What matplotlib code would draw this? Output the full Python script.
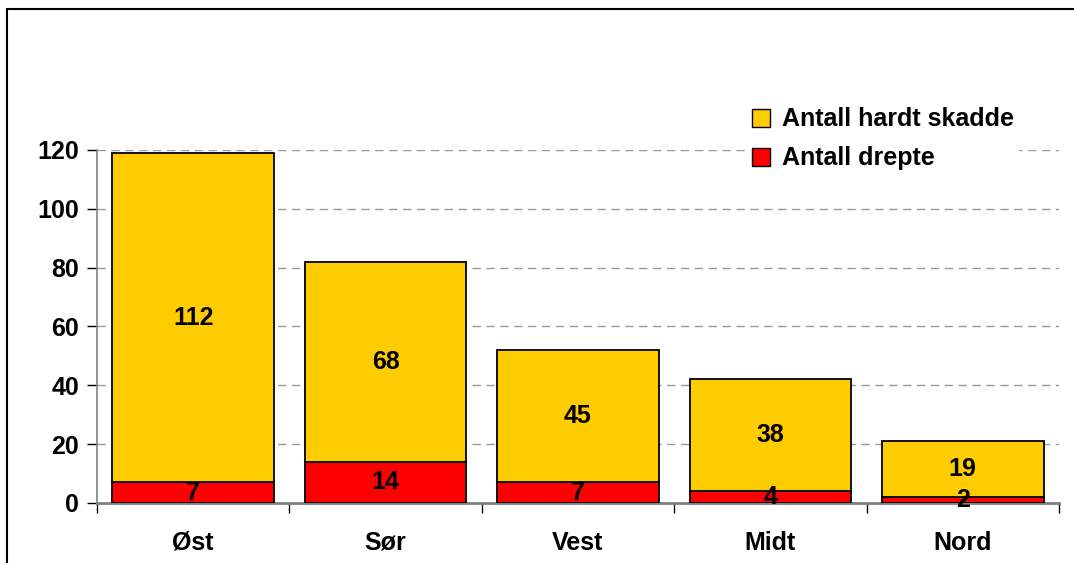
import matplotlib
matplotlib.use("Agg")
import matplotlib.pyplot as plt
from matplotlib.patches import Rectangle, Patch

regions = ["Øst", "Sør", "Vest", "Midt", "Nord"]
drepte = [7, 14, 7, 4, 2]
skadde = [112, 68, 45, 38, 19]
yticks = [0, 20, 40, 60, 80, 100, 120]

plt.rcParams['font.family'] = ['Liberation Sans', 'DejaVu Sans']
plt.rcParams['font.weight'] = 'bold'
fs = 18

fig = plt.figure(figsize=(10.74, 5.63), dpi=100)
ax = fig.add_axes([0.0903, 0.1066, 0.8957, 0.627])

# frame around the whole chart (only left and top are visible)
fig.patches.append(Rectangle((7/1074, -0.2), 1.2, 1.2 - 9/563,
                             transform=fig.transFigure, fill=False,
                             edgecolor="black", linewidth=1.5))

x = list(range(len(regions)))
w = 0.84
ax.bar(x, drepte, width=w, color="#ff0000", edgecolor="black", linewidth=1.3, zorder=3)
ax.bar(x, skadde, width=w, bottom=drepte, color="#ffcc00", edgecolor="black", linewidth=1.3, zorder=3)

for i in x:
    ax.text(i, drepte[i] / 2, str(drepte[i]), ha="center", va="center",
            fontsize=fs, fontweight="bold", zorder=4)
    ax.text(i, drepte[i] + skadde[i] / 2, str(skadde[i]), ha="center", va="center",
            fontsize=fs, fontweight="bold", zorder=4)

ax.set_xlim(-0.5, len(regions) - 0.5)
ax.set_ylim(0, 120)
ax.set_yticks(yticks)
ax.set_yticklabels([str(t) for t in yticks], fontsize=fs, fontweight="bold")
ax.yaxis.grid(True, linestyle=(0, (6, 4)), color="#999999", linewidth=1, zorder=0)

# category ticks between bars, labels centred under bars
ax.set_xticks([i - 0.5 for i in range(len(regions) + 1)])
ax.set_xticklabels([])
ax.set_xticks(x, minor=True)
ax.set_xticklabels(regions, minor=True, fontsize=fs, fontweight="bold")
ax.tick_params(axis="x", which="minor", length=0, pad=20)
ax.tick_params(axis="x", which="major", length=7, color="black", width=1)
ax.tick_params(axis="y", length=7, color="black", width=1, pad=6)

for s in ["top", "right"]:
    ax.spines[s].set_visible(False)
ax.spines["left"].set_color("#808080")
ax.spines["bottom"].set_color("#808080")
ax.spines["left"].set_linewidth(1.2)
ax.spines["bottom"].set_linewidth(2)

handles = [Patch(facecolor="#ffcc00", edgecolor="black"),
           Patch(facecolor="#ff0000", edgecolor="black")]
leg = fig.legend(handles, ["Antall hardt skadde", "Antall drepte"],
                 loc="upper left", bbox_to_anchor=(734/1074, 1 - 90/563),
                 frameon=True, edgecolor="none", facecolor="white", framealpha=1,
                 fontsize=fs, handlelength=0.75, handleheight=0.75,
                 handletextpad=0.45, labelspacing=0.6, borderpad=0.2)
for t in leg.get_texts():
    t.set_fontweight("bold")

fig.savefig("out.png", dpi=100)
